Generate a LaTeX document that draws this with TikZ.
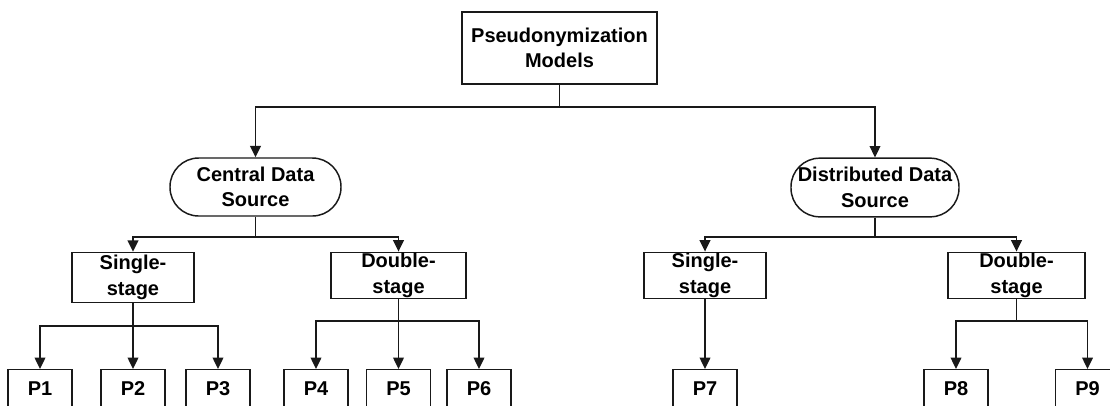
\documentclass[tikz,border=0pt]{standalone}
\usepackage{fontspec}
\setmainfont{Liberation Sans}
\usetikzlibrary{arrows.meta}
\begin{document}
\begin{tikzpicture}[x=0.75pt,y=-0.75pt,
  lbl/.style={font=\bfseries\fontsize{15}{19}\selectfont, align=center, inner sep=0pt},
  box/.style={lbl, draw=black!90, line width=1.1pt},
  pill/.style={box, rounded corners=21.5pt},
  leaf/.style={box, minimum width=48pt, minimum height=28.5pt},
  link/.style={draw=black!90, line width=1.1pt},
  arr/.style={link, -{Triangle[length=8.5pt,width=8pt]}}
]
\useasboundingbox (0,0) rectangle (1110,405);
\fill[white] (0,0) rectangle (1110,405);
\clip (0,0) rectangle (1110,405);

% root
\node[box, minimum width=146.25pt, minimum height=54pt] (root) at (559.5,48) {Pseudonymization\\Models};

% data sources
\node[pill, minimum width=128.25pt, minimum height=43.5pt] (central) at (255.5,187) {Central Data\\Source};
\node[pill, minimum width=126pt, minimum height=44pt] (dist) at (875,187.5) {Distributed Data\\Source};

% stages
\node[box, minimum width=91.5pt, minimum height=37.5pt] (sl) at (133,277.5) {Single-\\stage};
\node[box, minimum width=101.25pt, minimum height=34.5pt] (dl) at (398.5,275.3) {Double-\\stage};
\node[box, minimum width=91.5pt, minimum height=34.5pt] (sr) at (705,275.3) {Single-\\stage};
\node[box, minimum width=102.75pt, minimum height=34.5pt] (dr) at (1016.5,275.3) {Double-\\stage};

% models
\node[leaf] (p1) at (40,388.7) {P1};
\node[leaf] (p2) at (133,388.7) {P2};
\node[leaf] (p3) at (218,388.7) {P3};
\node[leaf] (p4) at (316,388.7) {P4};
\node[leaf] (p5) at (398.5,388.7) {P5};
\node[leaf] (p6) at (479,388.7) {P6};
\node[leaf] (p7) at (705,388.7) {P7};
\node[leaf] (p8) at (956,388.7) {P8};
\node[leaf] (p9) at (1087.5,388.7) {P9};

% bus junctions
\coordinate (j0) at (559.5,107);
\coordinate (j1) at (255.5,237);
\coordinate (j2) at (875,237);
\coordinate (j3) at (133,326);
\coordinate (j4) at (398.5,321);
\coordinate (j5) at (1016.5,321);

% connectors
\draw[link] (root.south) -- (j0);
\draw[arr] (j0) -| (central.north);
\draw[arr] (j0) -| (dist.north);

\draw[link] (central.south) -- (j1);
\draw[arr] (j1) -| (sl.north);
\draw[arr] (j1) -| (dl.north);

\draw[link] (dist.south) -- (j2);
\draw[arr] (j2) -| (sr.north);
\draw[arr] (j2) -| (dr.north);

\draw[link] (sl.south) -- (j3);
\draw[arr] (j3) -| (p1.north);
\draw[arr] (j3) -- (p2.north);
\draw[arr] (j3) -| (p3.north);

\draw[link] (dl.south) -- (j4);
\draw[arr] (j4) -| (p4.north);
\draw[arr] (j4) -- (p5.north);
\draw[arr] (j4) -| (p6.north);

\draw[arr] (sr.south) -- (p7.north);

\draw[link] (dr.south) -- (j5);
\draw[arr] (j5) -| (p8.north);
\draw[arr] (j5) -| (p9.north);
\end{tikzpicture}
\end{document}
